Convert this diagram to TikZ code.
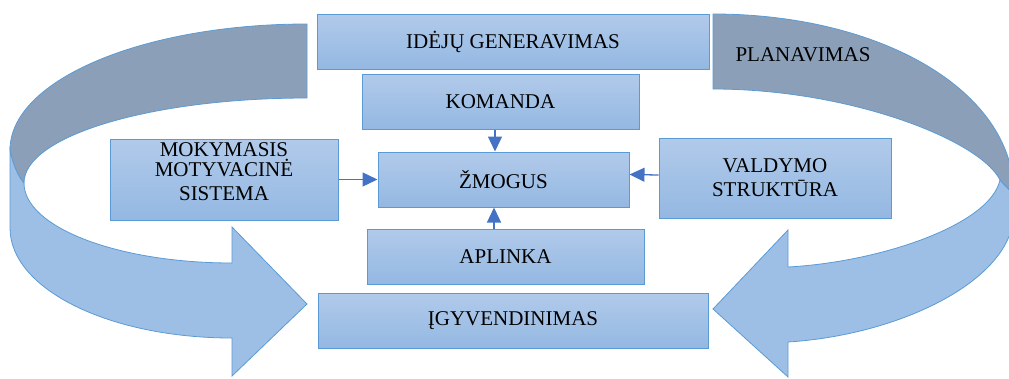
\documentclass[tikz,border=0pt]{standalone}
\usepackage{fontspec}
\setmainfont{Liberation Serif}
\usetikzlibrary{arrows.meta, positioning}
\definecolor{boxtop}{RGB}{177,202,234}
\definecolor{boxbot}{RGB}{148,184,226}
\definecolor{boxline}{RGB}{91,155,213}
\definecolor{bandback}{RGB}{139,160,184}
\definecolor{bandfront}{RGB}{157,191,230}
\definecolor{connblue}{RGB}{68,114,196}

\begin{document}
\begin{tikzpicture}[x=1pt, y=-1pt,
  box/.style={draw=boxline, line width=1pt, top color=boxtop, bottom color=boxbot, inner sep=0pt, align=center, font=\fontsize{21}{24}\selectfont},
  band/.style={draw=boxline, line width=0.8pt},
  conn/.style={draw=connblue, line width=1.3pt, -{Triangle[length=15pt,width=14pt]}}]
  \useasboundingbox (0,0) rectangle (1009,378);

  % Left band
  \filldraw[band, fill=bandback] (307,24) .. controls (143,24) and (10,80) .. (10,150)
    .. controls (13,165) and (18,176) .. (24,183)
    .. controls (24,136) and (151,98) .. (307,98) -- cycle;
  \filldraw[band, fill=bandfront] (10,150) -- (10,228) .. controls (10,289) and (109,338) .. (232,338)
    -- (232,376) -- (307,304) -- (232,227) -- (232,263)
    .. controls (117,263) and (24,227) .. (24,183)
    .. controls (18,176) and (13,165) .. (10,150) -- cycle;

  % Right band
  \filldraw[band, fill=bandback] (713,14) .. controls (880,14) and (1014,90) .. (1014,195)
    .. controls (1008,188) and (1003,184) .. (1000,180)
    .. controls (980,140) and (850,89) .. (713,89) -- cycle;
  \filldraw[band, fill=bandfront] (1014,195) -- (1014,212) .. controls (1014,280) and (900,335) .. (788,342)
    -- (788,377) -- (713,309) -- (788,230) -- (788,267)
    .. controls (880,262) and (990,225) .. (1000,180)
    .. controls (1003,184) and (1008,188) .. (1014,195) -- cycle;
  \node[font=\fontsize{21}{24}\selectfont] (plan) at (803,55) {PLANAVIMAS};

  % Boxes
  \node[box, minimum width=392pt, minimum height=55pt] (idejos) at (513,41.5) {IDĖJŲ GENERAVIMAS};
  \node[box, minimum width=277pt, minimum height=55pt] (komanda) at (500.5,101.5) {KOMANDA};
  \node[box, minimum width=228pt, minimum height=81pt] (mokym) at (224,179.5) {MOKYMASIS\\[-4pt]MOTYVACINĖ\\SISTEMA\\[-8pt]};
  \node[box, minimum width=251pt, minimum height=55pt] (zmogus) at (503.5,179.5) {ŽMOGUS};
  \node[box, minimum width=232pt, minimum height=80pt] (valdymo) at (775,178) {VALDYMO\\STRUKTŪRA};
  \node[box, minimum width=277pt, minimum height=55pt] (aplinka) at (505.5,256.5) {APLINKA};
  \node[box, minimum width=390pt, minimum height=55pt] (igyvend) at (513,320.5) {ĮGYVENDINIMAS};

  % Arrows into ZMOGUS
  \draw[conn] ([xshift=-5.5pt]komanda.south) -- ([xshift=-8.5pt]zmogus.north);
  \draw[conn] ([xshift=-11.5pt]aplinka.north) -- ([xshift=-9.5pt]zmogus.south);
  \draw[conn] (mokym) -- (zmogus);
  \draw[conn] ([yshift=3pt]valdymo.west) -- ([yshift=5pt]zmogus.east);
\end{tikzpicture}
\end{document}
